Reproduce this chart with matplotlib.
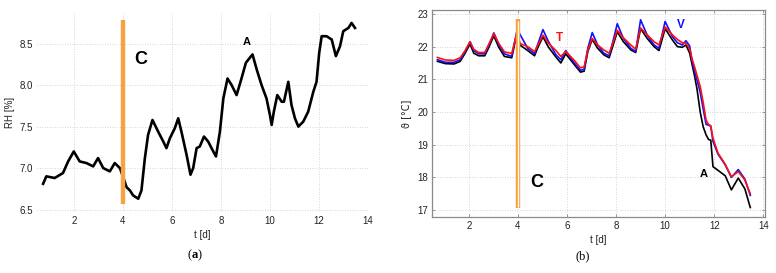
import matplotlib
matplotlib.use("Agg")
import matplotlib.pyplot as plt

plt.rcParams['font.family'] = ['Liberation Sans', 'DejaVu Sans']
plt.rcParams['mathtext.fontset'] = 'custom'
plt.rcParams['mathtext.rm'] = 'Liberation Serif'
plt.rcParams['mathtext.bf'] = 'Liberation Serif:bold'

# ---------------- data: panel (a) relative humidity ----------------
t_rh = [0.75, 0.88, 1.22, 1.56, 1.77, 2.0, 2.24, 2.52, 2.79, 2.99, 3.2, 3.47, 3.67,
        3.88, 4.04, 4.15, 4.29, 4.42, 4.63, 4.76, 4.9, 5.03, 5.21, 5.44, 5.65, 5.78,
        5.92, 6.12, 6.26, 6.39, 6.6, 6.76, 6.87, 7.01, 7.14, 7.31, 7.48, 7.69, 7.8,
        7.96, 8.1, 8.27, 8.44, 8.64, 8.84, 9.02, 9.18, 9.29, 9.46, 9.66, 9.86, 10.0,
        10.07, 10.16, 10.3, 10.48, 10.57, 10.75, 10.88, 11.02, 11.16, 11.36, 11.56,
        11.77, 11.9, 12.01, 12.11, 12.31, 12.52, 12.69, 12.86, 12.99, 13.2, 13.33, 13.47]
rh = [6.81, 6.9, 6.88, 6.94, 7.08, 7.2, 7.08, 7.06, 7.02, 7.12, 7.0, 6.96, 7.06,
      7.0, 6.87, 6.77, 6.73, 6.67, 6.63, 6.73, 7.12, 7.4, 7.58, 7.44, 7.32, 7.24,
      7.36, 7.48, 7.6, 7.44, 7.16, 6.92, 7.0, 7.24, 7.26, 7.38, 7.32, 7.2, 7.14,
      7.44, 7.84, 8.08, 8.0, 7.88, 8.08, 8.27, 8.33, 8.37, 8.19, 8.0, 7.84, 7.64,
      7.52, 7.68, 7.88, 7.8, 7.8, 8.04, 7.76, 7.6, 7.5, 7.56, 7.68,
      7.92, 8.04, 8.39, 8.59, 8.59, 8.55, 8.35, 8.47, 8.65, 8.69, 8.75, 8.69]

# ---------------- data: panel (b) temperatures ----------------
t_temp = [0.72, 1.05, 1.4, 1.65, 1.85, 2.05, 2.2, 2.4, 2.65, 2.8, 3.02, 3.22, 3.45,
          3.75, 3.98, 4.08, 4.4, 4.68, 4.8, 5.02, 5.25, 5.55, 5.75, 5.95, 6.3, 6.55,
          6.7, 6.85, 7.03, 7.25, 7.5, 7.72, 7.82, 8.05, 8.3, 8.6, 8.8, 9.0, 9.27,
          9.55, 9.75, 10.0, 10.3, 10.5, 10.7, 10.85, 11.0, 11.1, 11.2, 11.3, 11.43,
          11.55, 11.67, 11.77, 11.86, 11.95, 12.15, 12.45, 12.7, 12.98, 13.25, 13.47]
temp_T = [21.67, 21.59, 21.58, 21.66, 21.88, 22.15, 21.92, 21.82, 21.82, 22.05, 22.4, 22.1, 21.84,
          21.79, 22.48, 22.1, 22.0, 21.85, 22.02, 22.35, 22.1, 21.88, 21.7, 21.85, 21.58, 21.35,
          21.38, 21.9, 22.25, 22.05, 21.9, 21.8, 22.0, 22.5, 22.27, 22.05, 21.92, 22.57, 22.36,
          22.15, 22.05, 22.6, 22.36, 22.22, 22.12, 22.1, 21.93, 21.62, 21.38, 21.12, 20.78,
          20.3, 19.75, 19.62, 19.58, 19.2, 18.75, 18.4, 18.02, 18.18, 17.92, 17.5]
temp_V = [21.6, 21.52, 21.52, 21.6, 21.85, 22.15, 21.88, 21.78, 21.78, 22.0, 22.42, 22.05, 21.78,
          21.7, 22.55, 22.38, 21.95, 21.78, 22.05, 22.52, 22.15, 21.75, 21.6, 21.88, 21.5, 21.28,
          21.3, 21.95, 22.43, 22.05, 21.8, 21.72, 22.0, 22.7, 22.25, 21.95, 21.85, 22.82, 22.35,
          22.05, 21.95, 22.77, 22.3, 22.12, 22.05, 22.18, 22.02, 21.55, 21.25, 20.98, 20.6,
          20.1, 19.62, 19.6, 19.56, 19.1, 18.72, 18.38, 18.0, 18.24, 17.95, 17.45]
temp_A = [21.55, 21.48, 21.47, 21.55, 21.8, 22.08, 21.8, 21.72, 21.72, 21.95, 22.33, 21.98, 21.7,
          21.66, 22.48, 22.05, 21.88, 21.72, 21.95, 22.3, 21.98, 21.68, 21.5, 21.78, 21.45, 21.22,
          21.25, 21.85, 22.22, 21.95, 21.75, 21.66, 21.9, 22.45, 22.15, 21.9, 21.82, 22.55, 22.25,
          22.0, 21.88, 22.55, 22.2, 22.0, 21.98, 22.05, 21.8, 21.45, 21.1, 20.7, 20.0,
          19.55, 19.3, 19.16, 19.14, 18.33, 18.22, 18.05, 17.62, 17.98, 17.65, 17.08]

x_ticks = [2, 4, 6, 8, 10, 12, 14]
rh_ticks = [6.5, 7.0, 7.5, 8.0, 8.5]
temp_ticks = [17, 18, 19, 20, 21, 22, 23]
event_t = 4

ORANGE = '#f6a443'
W, H = 776, 273
fig = plt.figure(figsize=(W / 100, H / 100), dpi=100)

def ax_rect(x0, x1, top, bottom):
    return [x0 / W, 1 - bottom / H, (x1 - x0) / W, (bottom - top) / H]

tick_fs = 7.0

# ---------- panel (a) ----------
ax1 = fig.add_axes(ax_rect(37, 368, 13, 212))
ax1.plot(t_rh, rh, color='black', lw=1.9, solid_joinstyle='round')
ax1.plot([event_t, event_t], [6.57, 8.79], color=ORANGE, lw=3.2, solid_capstyle='butt')
ax1.set_xlim(0.5, 14)
ax1.set_ylim(6.47, 8.87)
ax1.set_xticks(x_ticks)
ax1.set_yticks(rh_ticks)
ax1.set_yticklabels([f'{v:.1f}' for v in rh_ticks])
for s in ax1.spines.values():
    s.set_visible(False)
ax1.grid(True, color='#c8c8c8', lw=0.6, ls=(0, (1, 2)))
ax1.tick_params(length=0, labelsize=tick_fs, pad=3, colors='#222222')
ax1.set_xlabel('t [d]', fontsize=tick_fs, labelpad=3, color='#222222')
ax1.set_ylabel('RH [%]', fontsize=tick_fs, labelpad=3, color='#222222')
ax1.text(4.75, 8.31, 'C', fontsize=13, fontweight='bold', ha='center', va='center')
ax1.text(9.05, 8.52, 'A', fontsize=8, fontweight='bold', ha='center', va='center')
fig.text(195 / W, 1 - 255 / H, r'($\mathbf{a}$)', fontsize=9, ha='center', va='center',
         family='Liberation Serif')

# ---------- panel (b) ----------
ax2 = fig.add_axes(ax_rect(432, 765, 10, 217))
ax2.plot(t_temp, temp_A, color='black', lw=1.2)
ax2.plot(t_temp, temp_V, color='#1010ff', lw=1.2)
ax2.plot(t_temp, temp_T, color='#ff1010', lw=1.2)
ax2.plot([event_t, event_t], [17.05, 22.84], color=ORANGE, lw=3.2, solid_capstyle='butt')
ax2.plot([event_t, event_t], [17.1, 22.79], color='white', lw=0.9, solid_capstyle='butt')
ax2.set_xlim(0.5, 14.07)
ax2.set_ylim(16.79, 23.12)
ax2.set_xticks(x_ticks)
ax2.set_yticks(temp_ticks)
for s in ax2.spines.values():
    s.set_color('#8a8a8a')
    s.set_linewidth(0.9)
ax2.grid(True, color='#c8c8c8', lw=0.6, ls=(0, (1, 2)))
ax2.tick_params(direction='in', length=2.5, width=0.6, color='#8a8a8a',
                top=True, right=True, labelsize=tick_fs, pad=3, labelcolor='#222222')
ax2.set_xlabel('t [d]', fontsize=tick_fs, labelpad=3, color='#222222')
ax2.set_ylabel('ϑ [°C]', fontsize=tick_fs, labelpad=4, color='#222222',
               family=['DejaVu Sans'])
ax2.text(4.75, 17.86, 'C', fontsize=13, fontweight='bold', ha='center', va='center')
ax2.text(5.69, 22.27, 'T', fontsize=8.5, fontweight='bold', color='#ff1010', ha='center', va='center')
ax2.text(10.65, 22.66, 'V', fontsize=8.5, fontweight='bold', color='#1010ff', ha='center', va='center')
ax2.text(11.59, 18.1, 'A', fontsize=8, fontweight='bold', ha='center', va='center')
fig.text(583 / W, 1 - 256 / H, r'(b)', fontsize=9, ha='center', va='center',
         family='Liberation Serif')

fig.savefig('out.png', dpi=100)
